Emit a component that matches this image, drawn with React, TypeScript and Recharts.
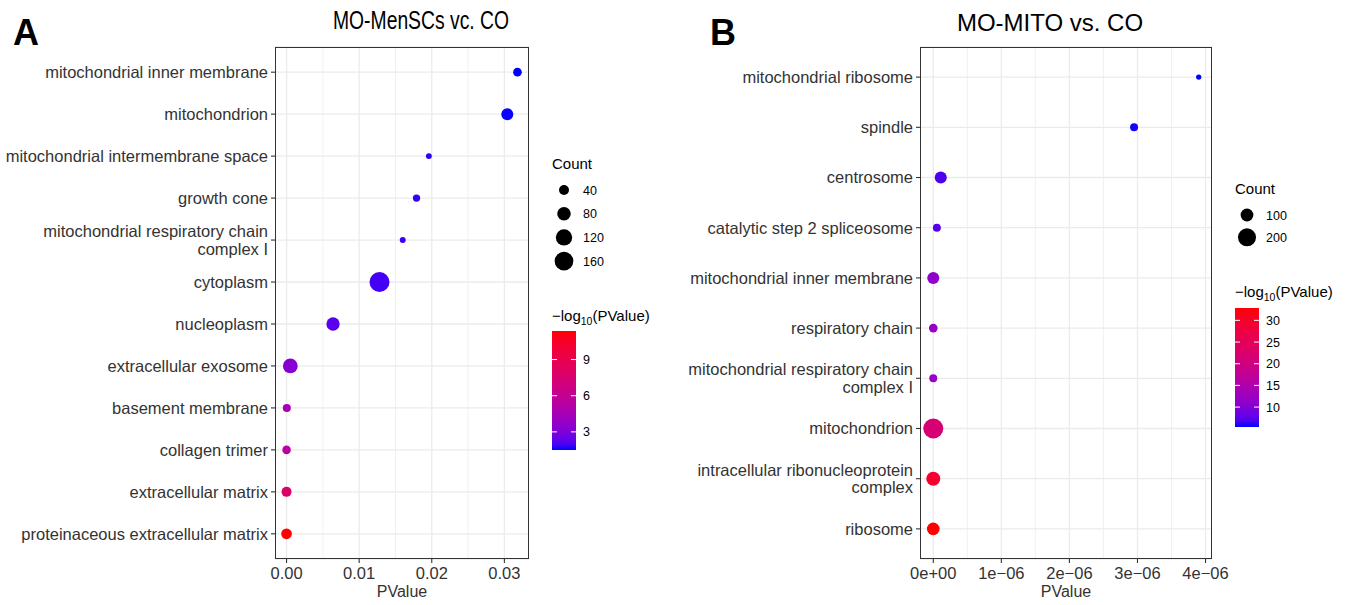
import React from 'react';
import { ScatterChart, Scatter, XAxis, YAxis, ZAxis, CartesianGrid, Cell } from 'recharts';

// panel A: MO-MenSCs vc. CO
const termsA = [
  'mitochondrial inner membrane',
  'mitochondrion',
  'mitochondrial intermembrane space',
  'growth cone',
  'mitochondrial respiratory chain\ncomplex I',
  'cytoplasm',
  'nucleoplasm',
  'extracellular exosome',
  'basement membrane',
  'collagen trimer',
  'extracellular matrix',
  'proteinaceous extracellular matrix',
];
const pvalA = [0.0318, 0.0304, 0.0196, 0.0179, 0.016, 0.0128, 0.0064, 5.2e-4, 3.5e-5, 3.5e-6, 1.3e-8, 4.3e-12];
const countA = [28, 61, 9, 18, 9, 184, 77, 96, 23, 27, 40, 47];
const xTicksA = [0, 0.01, 0.02, 0.03];
const xMinorA = [0.005, 0.015, 0.025];
const sizeLegendA = [40, 80, 120, 160];
const colorTicksA = [3, 6, 9];

// panel B: MO-MITO vs. CO
const termsB = [
  'mitochondrial ribosome',
  'spindle',
  'centrosome',
  'catalytic step 2 spliceosome',
  'mitochondrial inner membrane',
  'respiratory chain',
  'mitochondrial respiratory chain\ncomplex I',
  'mitochondrion',
  'intracellular ribonucleoprotein\ncomplex',
  'ribosome',
];
const pvalB = [3.9e-6, 2.95e-6, 1.1e-7, 5.3e-8, 5e-12, 1.6e-12, 1.6e-12, 1.3e-22, 2.5e-30, 1.4e-33];
const countB = [17, 39, 89, 39, 89, 46, 39, 246, 120, 99];
const xTicksB = [0, 1e-6, 2e-6, 3e-6, 4e-6];
const xMinorB = [0.5e-6, 1.5e-6, 2.5e-6, 3.5e-6];
const sizeLegendB = [100, 200];
const colorTicksB = [10, 15, 20, 25, 30];

// ggplot-ish blue -> red gradient, interpolated in Lab
const toLin = (c: number) => {
  const v = c / 255;
  return v <= 0.04045 ? v / 12.92 : Math.pow((v + 0.055) / 1.055, 2.4);
};
const fromLin = (v: number) => {
  const c = v <= 0.0031308 ? 12.92 * v : 1.055 * Math.pow(Math.max(v, 0), 1 / 2.4) - 0.055;
  return Math.round(Math.min(1, Math.max(0, c)) * 255);
};
const WX = 0.95047, WZ = 1.08883;
const fl = (t: number) => (t > 216 / 24389 ? Math.cbrt(t) : ((24389 / 27) * t + 16) / 116);
const finv = (t: number) => (t > 6 / 29 ? t * t * t : (116 * t - 16) / (24389 / 27));
const rgbToLab = (rgb: number[]) => {
  const [R, G, B] = rgb.map(toLin);
  const X = 0.4124 * R + 0.3576 * G + 0.1805 * B;
  const Y = 0.2126 * R + 0.7152 * G + 0.0722 * B;
  const Z = 0.0193 * R + 0.1192 * G + 0.9505 * B;
  const fx = fl(X / WX), fy = fl(Y), fz = fl(Z / WZ);
  return [116 * fy - 16, 500 * (fx - fy), 200 * (fy - fz)];
};
const labToRgb = (lab: number[]) => {
  const [L, a, b] = lab;
  const fy = (L + 16) / 116, fx = fy + a / 500, fz = fy - b / 200;
  const X = WX * finv(fx), Y = finv(fy), Z = WZ * finv(fz);
  const R = 3.2406 * X - 1.5372 * Y - 0.4986 * Z;
  const G = -0.9689 * X + 1.8758 * Y + 0.0415 * Z;
  const B = 0.0557 * X - 0.204 * Y + 1.057 * Z;
  return `rgb(${fromLin(R)},${fromLin(G)},${fromLin(B)})`;
};
const LOW = rgbToLab([0, 0, 255]);
const HIGH = rgbToLab([255, 0, 0]);
const gradient = (t: number) => labToRgb(LOW.map((v, i) => v + (HIGH[i] - v) * t));

const FONT = '"Liberation Sans", Arial, sans-serif';
const INK = '#333333';
const GRID = '#EBEBEB';

const TermTick = (props: any) => {
  const { x, y, payload } = props;
  const lines = String(payload.value).split('\n');
  const lh = 17.5;
  const y0 = y - ((lines.length - 1) * lh) / 2;
  return (
    <text x={x} y={y0} textAnchor="end" fill={INK} fontSize={16.5}>
      {lines.map((l, i) => (
        <tspan key={i} x={x} y={y0 + i * lh} dy="0.36em">{l}</tspan>
      ))}
    </text>
  );
};

const fmtA = (v: number) => v.toFixed(2);
const fmtB = (v: number) => {
  if (v === 0) return '0e+00';
  const e = Math.floor(Math.log10(Math.abs(v)) + 1e-9);
  const m = Math.round(v / Math.pow(10, e));
  return `${m}e\u2212${String(-e).padStart(2, '0')}`;
};

type PanelProps = {
  terms: string[];
  pvals: number[];
  counts: number[];
  xTicks: number[];
  xMinor: number[];
  fmt: (v: number) => string;
  zDomain: [number, number];
  zRange: [number, number];
  left: number;
  top: number;
  yAxisWidth: number;
  plotWidth: number;
  plotHeight: number;
  rightPad: number;
};

const radiusFor = (count: number, zDomain: number[], zRange: number[]) => {
  const area = zRange[0] + ((count - zDomain[0]) / (zDomain[1] - zDomain[0])) * (zRange[1] - zRange[0]);
  return Math.sqrt(area / Math.PI);
};

const logRange = (pvals: number[]) => {
  const l = pvals.map((p) => -Math.log10(p));
  return [Math.min(...l), Math.max(...l)];
};

const Panel = (p: PanelProps) => {
  const [lo, hi] = logRange(p.pvals);
  const data = p.terms.map((term, i) => {
    const logp = -Math.log10(p.pvals[i]);
    return { term, pvalue: p.pvals[i], count: p.counts[i], color: gradient((logp - lo) / (hi - lo)) };
  });
  const xMax = Math.max(...p.pvals);
  const xMin = Math.min(...p.pvals);
  const pad = (xMax - xMin) * 0.05;
  const n = p.terms.length;
  const catPad = (p.plotHeight / (n - 1 + 1.2)) * 0.6;
  const height = 605;
  const width = p.yAxisWidth + p.plotWidth + p.rightPad;
  const xAxisHeight = height - p.top - p.plotHeight;
  return (
    <div style={{ position: 'absolute', left: p.left, top: 0, width, height }}>
      <ScatterChart width={width} height={height} margin={{ top: p.top, right: p.rightPad, bottom: 0, left: 0 }}>
        <CartesianGrid stroke={GRID} strokeWidth={0.7} horizontal={false} verticalValues={p.xMinor} />
        <CartesianGrid stroke={GRID} strokeWidth={1.3} verticalValues={p.xTicks} />
        <XAxis
          type="number"
          dataKey="pvalue"
          domain={[xMin - pad, xMax + pad]}
          allowDataOverflow
          ticks={p.xTicks}
          tickFormatter={p.fmt}
          axisLine={false}
          tickLine={{ stroke: INK, strokeWidth: 1.1 }}
          tickSize={4}
          tickMargin={4}
          tick={{ fill: INK, fontSize: 16.5 }}
          height={xAxisHeight}
          label={{ value: 'PValue', position: 'insideBottom', offset: 8, fill: INK, fontSize: 16 }}
        />
        <YAxis
          type="category"
          dataKey="term"
          reversed
          scale="point"
          allowDuplicatedCategory={false}
          padding={{ top: catPad, bottom: catPad }}
          width={p.yAxisWidth}
          interval={0}
          axisLine={false}
          tickLine={{ stroke: INK, strokeWidth: 1.1 }}
          tickSize={4}
          tickMargin={3}
          tick={<TermTick />}
        />
        <ZAxis type="number" dataKey="count" domain={p.zDomain} range={p.zRange} />
        <Scatter data={data} shape="circle" isAnimationActive={false}>
          {data.map((d, i) => (
            <Cell key={i} fill={d.color} />
          ))}
        </Scatter>
      </ScatterChart>
      <div
        style={{
          position: 'absolute',
          left: p.yAxisWidth,
          top: p.top,
          width: p.plotWidth,
          height: p.plotHeight,
          border: `1.3px solid ${INK}`,
          boxSizing: 'border-box',
          pointerEvents: 'none',
        }}
      />
    </div>
  );
};

type LegendProps = {
  id: string;
  x: number;
  countY: number;
  sizes: number[];
  sizeStep: number;
  zDomain: number[];
  zRange: number[];
  barTitleY: number;
  barY: number;
  pvals: number[];
  colorTicks: number[];
};

const Legend = (l: LegendProps) => {
  const [lo, hi] = logRange(l.pvals);
  const barW = 24;
  const barH = 119;
  const stops = Array.from({ length: 21 }, (_, i) => i / 20);
  return (
    <g fontFamily={FONT}>
      <text x={l.x} y={l.countY} dy="0.36em" fontSize={15} fill="#000">Count</text>
      {l.sizes.map((s, i) => {
        const cy = l.countY + 26 + i * l.sizeStep;
        return (
          <g key={s}>
            <circle cx={l.x + 12} cy={cy} r={radiusFor(s, l.zDomain, l.zRange)} fill="#000" />
            <text x={l.x + 31} y={cy} dy="0.36em" fontSize={12.5} fill="#000">{s}</text>
          </g>
        );
      })}
      <text x={l.x} y={l.barTitleY} dy="0.36em" fontSize={15} fill="#000">
        {'\u2212log'}
        <tspan fontSize={10.5} dy={4}>10</tspan>
        <tspan dy={-4}>(PValue)</tspan>
      </text>
      <defs>
        <linearGradient id={l.id} x1="0" y1="1" x2="0" y2="0">
          {stops.map((t) => (
            <stop key={t} offset={t} stopColor={gradient(t)} />
          ))}
        </linearGradient>
      </defs>
      <rect x={l.x} y={l.barY} width={barW} height={barH} fill={`url(#${l.id})`} />
      {l.colorTicks.map((v) => {
        const ty = l.barY + ((hi - v) / (hi - lo)) * barH;
        return (
          <g key={v}>
            <line x1={l.x} x2={l.x + 5} y1={ty} y2={ty} stroke="#fff" strokeWidth={1} />
            <line x1={l.x + barW - 5} x2={l.x + barW} y1={ty} y2={ty} stroke="#fff" strokeWidth={1} />
            <text x={l.x + 31} y={ty} dy="0.36em" fontSize={12.5} fill="#000">{v}</text>
          </g>
        );
      })}
    </g>
  );
};

const zDomainA: [number, number] = [0, 200];
const zRangeA: [number, number] = [13, 340];
const zDomainB: [number, number] = [0, 250];
const zRangeB: [number, number] = [0, 320];

export default function App() {
  return (
    <div
      style={{
        position: 'absolute',
        left: 0,
        top: 0,
        width: 1350,
        height: 605,
        background: '#fff',
        fontFamily: FONT,
        overflow: 'hidden',
      }}
    >
      <Panel
        terms={termsA}
        pvals={pvalA}
        counts={countA}
        xTicks={xTicksA}
        xMinor={xMinorA}
        fmt={fmtA}
        zDomain={zDomainA}
        zRange={zRangeA}
        left={0}
        top={47}
        yAxisWidth={275}
        plotWidth={254}
        plotHeight={512}
        rightPad={11}
      />
      <Panel
        terms={termsB}
        pvals={pvalB}
        counts={countB}
        xTicks={xTicksB}
        xMinor={xMinorB}
        fmt={fmtB}
        zDomain={zDomainB}
        zRange={zRangeB}
        left={640}
        top={47}
        yAxisWidth={280}
        plotWidth={292}
        plotHeight={512}
        rightPad={30}
      />
      <svg width={1350} height={605} style={{ position: 'absolute', left: 0, top: 0, pointerEvents: 'none' }}>
        <text x={13} y={45} fontSize={36} fontWeight="bold" fill="#000" fontFamily={FONT}>A</text>
        <text x={710} y={45} fontSize={36} fontWeight="bold" fill="#000" fontFamily={FONT}>B</text>
        <text
          x={421}
          y={29}
          fontSize={25}
          textAnchor="middle"
          textLength={176}
          lengthAdjust="spacingAndGlyphs"
          fill="#000"
          fontFamily={FONT}
        >
          MO-MenSCs vc. CO
        </text>
        <text x={1050} y={31} fontSize={24} textAnchor="middle" fill="#000" fontFamily={FONT}>MO-MITO vs. CO</text>
        <Legend
          id="barA"
          x={552}
          countY={164}
          sizes={sizeLegendA}
          sizeStep={23.7}
          zDomain={zDomainA}
          zRange={zRangeA}
          barTitleY={316}
          barY={331}
          pvals={pvalA}
          colorTicks={colorTicksA}
        />
        <Legend
          id="barB"
          x={1235}
          countY={189}
          sizes={sizeLegendB}
          sizeStep={22.3}
          zDomain={zDomainB}
          zRange={zRangeB}
          barTitleY={292}
          barY={308}
          pvals={pvalB}
          colorTicks={colorTicksB}
        />
      </svg>
    </div>
  );
}
